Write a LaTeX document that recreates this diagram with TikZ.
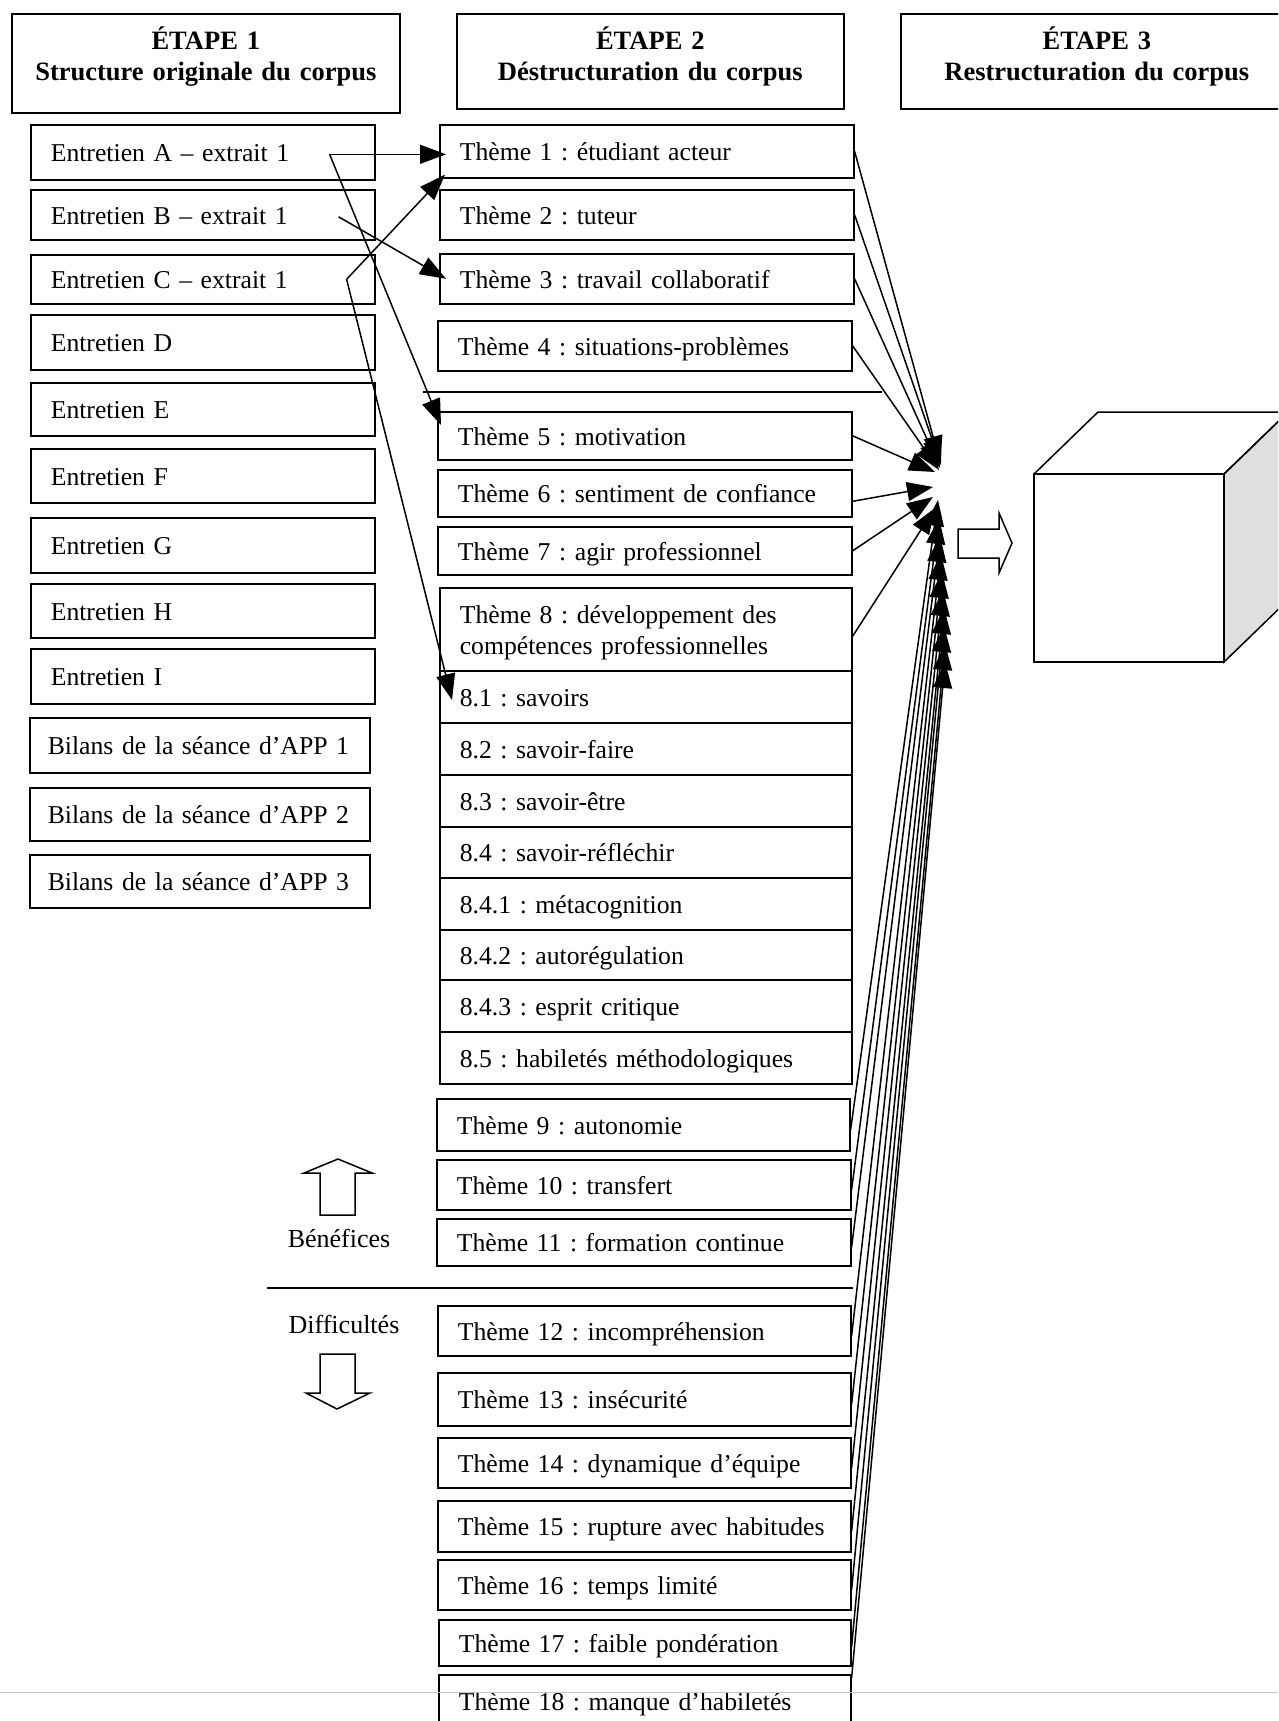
\documentclass[tikz,border=0pt]{standalone}
\usepackage{fontspec}
\setmainfont{Liberation Serif}
\usetikzlibrary{arrows.meta,calc}
\frenchspacing
\tikzset{
  box/.style={draw,line width=1.6pt,anchor=north west,inner xsep=20pt,inner ysep=0pt,align=left,text height=19pt,text depth=0pt,font=\fontsize{25.7}{31}\selectfont\frenchspacing},
  titlebox/.style={align=center,text height=18pt,font=\fontsize{26.5}{31}\selectfont\bfseries},
  conn/.style={line width=1.5pt,-{Triangle[length=26pt,width=19pt]}},
  hollow/.style={line width=1.5pt,fill=white,line join=miter},
  lbl/.style={font=\fontsize{26}{31}\selectfont,inner sep=0pt},
  thin/.style={line width=1.5pt},
}
\newcommand{\mkbox}[7][]{%
  \pgfmathsetmacro{\mytw}{#5-40}%
  \node[box,text width=\mytw pt,minimum height=#6pt,#1] (#2) at (#3,#4) {#7};}
\begin{document}
\begin{tikzpicture}[x=1pt,y=-1pt]
\useasboundingbox (0,0) rectangle (1278,1721);
\clip (0,0) rectangle (1278,1721);
\fill[white] (0,0) rectangle (1278,1721);

% titles
\mkbox[titlebox,text depth=45pt]{e1}{11}{13}{388}{99}{ÉTAPE 1\\Structure originale du corpus}
\mkbox[titlebox,text depth=41pt]{e2}{456}{13}{387}{95}{ÉTAPE 2\\Déstructuration du corpus}
\mkbox[titlebox,text depth=41pt]{e3}{900}{13}{392}{95}{ÉTAPE 3\\Restructuration du corpus}

% column 1
\mkbox{eA}{30}{124}{344}{55}{Entretien A – extrait 1}
\mkbox{eB}{30}{189}{344}{50}{Entretien B – extrait 1}
\mkbox{eC}{30}{254}{344}{49}{Entretien C – extrait 1}
\mkbox{eD}{30}{314}{344}{55}{Entretien D}
\mkbox{eE}{30}{382}{344}{53}{Entretien E}
\mkbox{eF}{30}{448}{344}{54}{Entretien F}
\mkbox{eG}{30}{517}{344}{55}{Entretien G}
\mkbox{eH}{30}{583}{344}{54}{Entretien H}
\mkbox{eI}{30}{648}{344}{55}{Entretien I}
\mkbox[inner xsep=18pt]{b1}{29}{717}{344}{55}{Bilans de la séance d’APP 1}
\mkbox[inner xsep=18pt]{b2}{29}{787}{344}{53}{Bilans de la séance d’APP 2}
\mkbox[inner xsep=18pt]{b3}{29}{854}{344}{53}{Bilans de la séance d’APP 3}

% column 2
\mkbox{t1}{439}{124}{414}{53}{Thème 1 : étudiant acteur}
\mkbox{t2}{439}{189}{414}{50}{Thème 2 : tuteur}
\mkbox{t3}{439}{253}{414}{50}{Thème 3 : travail collaboratif}
\mkbox{t4}{437}{320}{414}{50}{Thème 4 : situations-problèmes}
\mkbox{t5}{437}{411}{414}{48}{Thème 5 : motivation}
\mkbox{t6}{437}{469}{414}{47}{Thème 6 : sentiment de confiance}
\mkbox{t7}{437}{526}{414}{48}{Thème 7 : agir professionnel}
\mkbox[text depth=31pt]{t8}{439}{587}{412}{83}{Thème 8 : développement des\\compétences professionnelles}
\mkbox{s81}{439}{670}{412}{52}{8.1 : savoirs}
\mkbox{s82}{439}{722}{412}{52}{8.2 : savoir-faire}
\mkbox{s83}{439}{774}{412}{52}{8.3 : savoir-être}
\mkbox{s84}{439}{826}{412}{51}{8.4 : savoir-réfléchir}
\mkbox{s841}{439}{877}{412}{52}{8.4.1 : métacognition}
\mkbox{s842}{439}{929}{412}{50}{8.4.2 : autorégulation}
\mkbox{s843}{439}{979}{412}{52}{8.4.3 : esprit critique}
\mkbox{s85}{439}{1031}{412}{52}{8.5 : habiletés méthodologiques}
\mkbox{t9}{436}{1098}{413}{52}{Thème 9 : autonomie}
\mkbox{t10}{436}{1159}{414}{50}{Thème 10 : transfert}
\mkbox{t11}{436}{1218}{414}{47}{Thème 11 : formation continue}
\mkbox{t12}{437}{1305}{413}{50}{Thème 12 : incompréhension}
\mkbox{t13}{437}{1372}{413}{53}{Thème 13 : insécurité}
\mkbox{t14}{437}{1437}{413}{50}{Thème 14 : dynamique d’équipe}
\mkbox{t15}{437}{1500}{413}{51}{Thème 15 : rupture avec habitudes}
\mkbox{t16}{437}{1559}{413}{50}{Thème 16 : temps limité}
\mkbox{t17}{438}{1619}{412}{46}{Thème 17 : faible pondération}
\mkbox{t18}{438}{1674}{412}{52}{Thème 18 : manque d’habiletés}

% separators
\draw[thin] (423,392) -- (882,392);
\draw[thin] (267,1288) -- (853,1288);
\draw[gray!45,line width=1pt] (0,1692) -- (1278,1692);

% labels and hollow arrows
\node[lbl] (ben) at (339,1238) {Bénéfices};
\node[lbl] (dif) at (344,1324) {Difficultés};
\draw[hollow] (320,1215) -- (320,1173) -- (304,1173) -- (338,1159) -- (372,1173) -- (355,1173) -- (355,1215) -- cycle;
\draw[hollow] (320,1354) -- (355,1354) -- (355,1393) -- (370,1393) -- (337,1409) -- (306,1393) -- (320,1393) -- cycle;
\draw[hollow] (958,529) -- (999,529) -- (999,513) -- (1012,543) -- (999,573) -- (999,558) -- (958,558) -- cycle;

% cube
\draw[thin,fill=gray!25] (1224,474) -- (1288,412) -- (1288,600) -- (1224,662) -- cycle;
\draw[thin] (1034,474) rectangle (1224,662);
\draw[thin] (1034,474) -- (1098,412) -- (1288,412) -- (1224,474);

% step 1 -> step 2 connectors
\coordinate (sA) at ([xshift=-46pt,yshift=-2pt]eA.east);
\coordinate (sB) at ([xshift=-37pt,yshift=-2pt]eB.east);
\coordinate (sC) at ([xshift=-29pt]eC.east);
\draw[conn] (sA) -- ([xshift=7pt,yshift=-3pt]t1.west);
\draw[conn] (sA) -- ([xshift=4pt,yshift=-14pt]t5.north west);
\draw[conn] (sB) -- ([xshift=7pt]t3.west);
\draw[conn] (sC) -- ([xshift=6pt,yshift=4pt]t1.south west);
\draw[conn] (sC) -- ([xshift=13pt,yshift=-30pt]s81.north west);

% step 2 -> cluster
\coordinate (h1) at (940,462);
\coordinate (h2) at (941,465);
\coordinate (h3) at (940,468);
\coordinate (h4) at (939,470);
\coordinate (h5) at (935,472);
\coordinate (h6) at (933,487);
\coordinate (h7) at (933,497);
\coordinate (h8) at (935,508);
\coordinate (h9) at (938,500);
\coordinate (h10) at (939,518);
\coordinate (h11) at (940,536);
\coordinate (h12) at (941,554);
\coordinate (h13) at (942,572);
\coordinate (h14) at (943,590);
\coordinate (h15) at (944,608);
\coordinate (h16) at (944,626);
\coordinate (h17) at (945,644);
\coordinate (h18) at (945,662);
\draw[conn] (t1.east) -- (h1);
\draw[conn] (t2.east) -- (h2);
\draw[conn] (t3.east) -- (h3);
\draw[conn] (t4.east) -- (h4);
\draw[conn] (t5.east) -- (h5);
\draw[conn] ([yshift=-8pt]t6.east) -- (h6);
\draw[conn] (t7.east) -- (h7);
\draw[conn] ([yshift=-7pt]t8.east) -- (h8);
\draw[conn] ([yshift=-5pt]t9.east) -- (h9);
\draw[conn] ([yshift=-5pt]t10.east) -- (h10);
\draw[conn] ([yshift=-5pt]t11.east) -- (h11);
\draw[conn] ([yshift=-5pt]t12.east) -- (h12);
\draw[conn] ([yshift=-5pt]t13.east) -- (h13);
\draw[conn] ([yshift=-5pt]t14.east) -- (h14);
\draw[conn] ([yshift=-5pt]t15.east) -- (h15);
\draw[conn] ([yshift=-5pt]t16.east) -- (h16);
\draw[conn] ([yshift=-4pt]t17.east) -- (h17);
\draw[conn] ([yshift=-4pt]t18.north east) -- (h18);
\end{tikzpicture}
\end{document}
